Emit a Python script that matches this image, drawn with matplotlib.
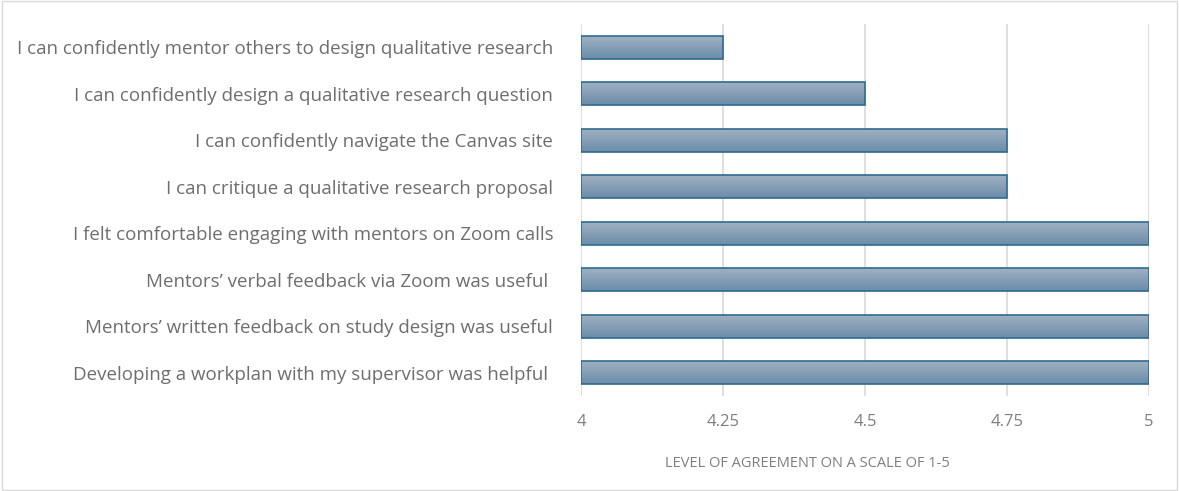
import numpy as np
import matplotlib.pyplot as plt
from matplotlib.patches import Rectangle

# statements, top to bottom as shown
statements = [
    "I can confidently mentor others to design qualitative research",
    "I can confidently design a qualitative research question",
    "I can confidently navigate the Canvas site",
    "I can critique a qualitative research proposal",
    "I felt comfortable engaging with mentors on Zoom calls",
    "Mentors\u2019 verbal feedback via Zoom was useful ",
    "Mentors\u2019 written feedback on study design was useful",
    "Developing a workplan with my supervisor was helpful ",
]
scores = [4.25, 4.5, 4.75, 4.75, 5, 5, 5, 5]
xticks = [4, 4.25, 4.5, 4.75, 5]
xtick_labels = ["4", "4.25", "4.5", "4.75", "5"]

plt.rcParams['font.family'] = ['Open Sans', 'DejaVu Sans']

fig = plt.figure(figsize=(11.79, 4.91), dpi=100)
ax = fig.add_axes([581/1179, 1-396/491, (1149-581)/1179, (396-24)/491])

# gradient for the bars (light top, darker bottom)
grad = np.linspace(0, 1, 64).reshape(-1, 1)
cmap = plt.matplotlib.colors.LinearSegmentedColormap.from_list(
    'bar', ['#a2b3c3', '#6b8caa'])

h = 0.5
for i, v in enumerate(scores):
    x0 = 4
    im = ax.imshow(grad, aspect='auto', cmap=cmap,
                   extent=(x0, v, i + h/2, i - h/2), zorder=2)
    r = Rectangle((x0, i - h/2), v - x0, h, facecolor='none',
                  edgecolor='#2e6b8f', linewidth=1.2, zorder=3)
    ax.add_patch(r)
    im.set_clip_path(r)

ax.set_xlim(4, 5)
ax.set_ylim(7.5, -0.5)
ax.set_xticks(xticks)
ax.set_xticklabels(xtick_labels)
ax.set_yticks(range(len(statements)))
ax.set_yticklabels(statements)
ax.grid(axis='x', color='#d9d9d9', linewidth=1.2, zorder=0)
ax.set_axisbelow(True)
for s in ax.spines.values():
    s.set_visible(False)
ax.tick_params(axis='x', length=0, pad=13, labelsize=12, labelcolor='#7f7f7f')
ax.tick_params(axis='y', length=0, pad=20, labelsize=13.5, labelcolor='#6e6e6e')
ax.set_xlabel("LEVEL OF AGREEMENT ON A SCALE OF 1-5", fontsize=10.5,
              color='#7f7f7f', labelpad=17)
ax.xaxis.set_label_coords(0.398, -0.16)

# light frame round the chart
fig.patches.append(Rectangle((0.002, 0.002), 0.996, 0.996, transform=fig.transFigure,
                             fill=False, edgecolor='#d9d9d9', linewidth=1))

fig.savefig('out.png', dpi=100)
